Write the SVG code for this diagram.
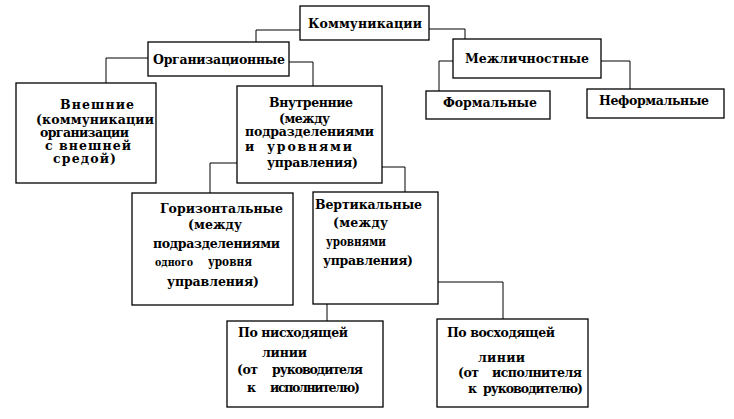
<svg xmlns="http://www.w3.org/2000/svg" width="734" height="419" viewBox="0 0 734 419">
<style>
.box{fill:#fff;stroke:#000;stroke-width:1.3}
.c{fill:none;stroke:#000;stroke-width:1}
text{font-family:"DejaVu Serif","Liberation Serif",serif;font-weight:bold;font-size:12.5px;fill:#000}
</style>
<rect width="734" height="419" fill="#fff"/>
<g id="connectors">
<path class="c" d="M300,30 H256 V42"/>
<path class="c" d="M429,29 H465 V39"/>
<path class="c" d="M148,58 H106 V83"/>
<path class="c" d="M289,62 H313 V86"/>
<path class="c" d="M453,61 H439 V91"/>
<path class="c" d="M601,61 H630 V89"/>
<path class="c" d="M237,163 H210 V193"/>
<path class="c" d="M382,167 H405 V192"/>
<path class="c" d="M327,304 V321"/>
<path class="c" d="M438,282 H503 V319"/>
</g>
<g id="kommunikatsii">
<rect class="box" x="300" y="6" width="129" height="34"/>
<text x="308" y="28" textLength="114" lengthAdjust="spacing">Коммуникации</text>
</g>
<g id="organizatsionnye">
<rect class="box" x="148" y="42" width="141" height="34"/>
<text x="153" y="64" textLength="132" lengthAdjust="spacing">Организационные</text>
</g>
<g id="mezhlichnostnye">
<rect class="box" x="453" y="39" width="148" height="39"/>
<text x="465" y="63" textLength="124" lengthAdjust="spacing">Межличностные</text>
</g>
<g id="vneshnie">
<rect class="box" x="16" y="83" width="140" height="100"/>
<text x="60" y="109" textLength="74" lengthAdjust="spacing">Внешние</text>
<text x="36" y="124" textLength="118" lengthAdjust="spacing">(коммуникации</text>
<text x="40" y="137" textLength="89" lengthAdjust="spacing">организации</text>
<text x="45" y="150" textLength="86" lengthAdjust="spacing">с внешней</text>
<text x="53" y="163" textLength="63" lengthAdjust="spacing">средой)</text>
</g>
<g id="vnutrennie">
<rect class="box" x="237" y="86" width="145" height="97"/>
<text x="269" y="107" textLength="84" lengthAdjust="spacing">Внутренние</text>
<text x="279" y="123" textLength="51" lengthAdjust="spacing">(между</text>
<text x="245" y="136" textLength="129" lengthAdjust="spacing">подразделениями</text>
<text x="245" y="151">и</text>
<text x="267" y="151" textLength="85" lengthAdjust="spacing">уровнями</text>
<text x="267" y="167" textLength="91" lengthAdjust="spacing">управления)</text>
</g>
<g id="formalnye">
<rect class="box" x="426" y="91" width="124" height="28"/>
<text x="443" y="107" textLength="94" lengthAdjust="spacing">Формальные</text>
</g>
<g id="neformalnye">
<rect class="box" x="587" y="89" width="137" height="29"/>
<text x="599" y="105" textLength="110" lengthAdjust="spacing">Неформальные</text>
</g>
<g id="gorizontalnye">
<rect class="box" x="132" y="193" width="161" height="112"/>
<text x="160" y="213" textLength="123" lengthAdjust="spacing">Горизонтальные</text>
<text x="188" y="229" textLength="54" lengthAdjust="spacing">(между</text>
<text x="153" y="248" textLength="127" lengthAdjust="spacing">подразделениями</text>
<text x="155" y="266" textLength="38" lengthAdjust="spacingAndGlyphs" style="font-size:11.5px">одного</text>
<text x="208" y="266" textLength="44" lengthAdjust="spacingAndGlyphs">уровня</text>
<text x="167" y="286" textLength="92" lengthAdjust="spacing">управления)</text>
</g>
<g id="vertikalnye">
<rect class="box" x="313" y="192" width="125" height="112"/>
<text x="315" y="209" textLength="107" lengthAdjust="spacing">Вертикальные</text>
<text x="333" y="227" textLength="55" lengthAdjust="spacing">(между</text>
<text x="326" y="246" textLength="60" lengthAdjust="spacingAndGlyphs">уровнями</text>
<text x="323" y="265" textLength="90" lengthAdjust="spacing">управления)</text>
</g>
<g id="po-niskhodyashchey">
<rect class="box" x="227" y="321" width="156" height="86"/>
<text x="238" y="337" textLength="110" lengthAdjust="spacing">По нисходящей</text>
<text x="262" y="357" textLength="45" lengthAdjust="spacing">линии</text>
<text x="237" y="374" textLength="21" lengthAdjust="spacing">(от</text>
<text x="272" y="374" textLength="91" lengthAdjust="spacing">руководителя</text>
<text x="247" y="392">к</text>
<text x="270" y="392" textLength="90" lengthAdjust="spacing">исполнителю)</text>
</g>
<g id="po-voskhodyashchey">
<rect class="box" x="437" y="319" width="151" height="88"/>
<text x="447" y="337" textLength="108" lengthAdjust="spacing">По восходящей</text>
<text x="478" y="362" textLength="47" lengthAdjust="spacing">линии</text>
<text x="458" y="377" textLength="21" lengthAdjust="spacing">(от</text>
<text x="492" y="377" textLength="90" lengthAdjust="spacing">исполнителя</text>
<text x="468" y="393">к</text>
<text x="483" y="393" textLength="100" lengthAdjust="spacing">руководителю)</text>
</g>
</svg>
